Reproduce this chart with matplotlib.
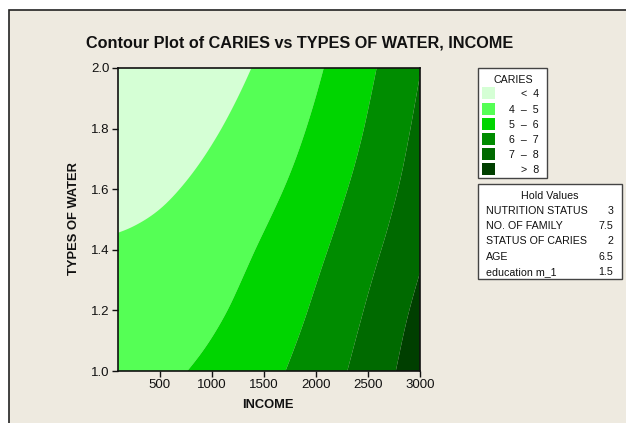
import numpy as np
import matplotlib
matplotlib.use("Agg")
import matplotlib.pyplot as plt
import matplotlib.tri as mtri
from matplotlib.patches import Rectangle

# ---- data ----
income = [100, 500, 1000, 1500, 2000, 2500, 3000]
water = [1.0, 1.2, 1.4, 1.6, 1.8, 2.0]
caries = [
    [4.73, 4.85, 5.18, 5.71, 6.46, 7.40, 8.55],
    [4.43, 4.53, 4.86, 5.39, 6.13, 7.09, 8.25],
    [4.09, 4.21, 4.56, 5.10, 5.81, 6.73, 7.84],
    [3.79, 3.90, 4.23, 4.75, 5.47, 6.38, 7.48],
    [3.53, 3.62, 3.92, 4.43, 5.15, 6.08, 7.22],
    [3.29, 3.35, 3.63, 4.14, 4.87, 5.82, 6.97],
]
levels = [0, 4, 5, 6, 7, 8, 20]
level_labels = ["<  4", "4  \u2013  5", "5  \u2013  6", "6  \u2013  7", "7  \u2013  8", ">  8"]
colors = ["#D5FFD5", "#55FF55", "#00D500", "#008C00", "#006A00", "#003F00"]
hold_names = ["NUTRITION STATUS", "NO. OF FAMILY", "STATUS OF CARIES", "AGE", "education m_1"]
hold_values = ["3", "7.5", "2", "6.5", "1.5"]
xticks = [500, 1000, 1500, 2000, 2500, 3000]
yticks = [1.0, 1.2, 1.4, 1.6, 1.8, 2.0]

W, H = 626, 423
BEIGE = "#EEEAE0"
plt.rcParams['font.family'] = ['Liberation Sans', 'DejaVu Sans']

fig = plt.figure(figsize=(W / 100, H / 100), dpi=100, facecolor="white")

def fx(px):
    return px / W

def fy(py):
    return 1 - py / H

# beige panel
fig.patches.append(Rectangle((fx(8.5), -0.05), 1.1, fy(10.5) + 0.05, transform=fig.transFigure,
                             facecolor=BEIGE, edgecolor="#222222", linewidth=1.2, zorder=-10))

ax = fig.add_axes([fx(118), fy(371), fx(420) - fx(118), fy(68) - fy(371)])
ax.set_facecolor(BEIGE)

# triangulated grid, smoothed by matplotlib's cubic refiner
X, Y = np.meshgrid(np.array(income, float), np.array(water, float))
Z = np.array(caries, float)
nx, ny = len(income), len(water)
tris = []
for j in range(ny - 1):
    for i in range(nx - 1):
        a = j * nx + i
        b = a + 1
        c = a + nx
        d = c + 1
        tris.append([a, b, d])
        tris.append([a, d, c])
tri = mtri.Triangulation(X.ravel(), Y.ravel(), np.array(tris))
refiner = mtri.UniformTriRefiner(tri)
interp = mtri.CubicTriInterpolator(tri, Z.ravel(), kind="min_E")
tri_f, z_f = refiner.refine_field(Z.ravel(), triinterpolator=interp, subdiv=4)
ax.tricontourf(tri_f, z_f, levels=levels, colors=colors, antialiased=True)

ax.set_xlim(100, 3000)
ax.set_ylim(1.0, 2.0)
ax.set_xticks(xticks)
ax.set_xticklabels([str(t) for t in xticks])
ax.set_yticks(yticks)
ax.set_yticklabels([f"{t:.1f}" for t in yticks])
ax.tick_params(direction="out", length=4, width=1, labelsize=9.5, colors="#111111", pad=2)
for s in ax.spines.values():
    s.set_linewidth(1.2)
    s.set_color("#111111")

fig.text(fx(300), fy(43), "Contour Plot of CARIES vs TYPES OF WATER, INCOME",
         ha="center", va="center", fontsize=11.7, fontweight="bold", color="#111111")
fig.text(fx(268), fy(405), "INCOME", ha="center", va="center", fontsize=9.3,
         fontweight="bold", color="#111111")
fig.text(fx(74), fy(219), "TYPES OF WATER", ha="center", va="center", fontsize=9.3,
         fontweight="bold", rotation=90, color="#111111")

FS = 7.7
BASE = 3.8  # baseline offset below row centre, px

# CARIES legend box
fig.patches.append(Rectangle((fx(477.5), fy(178.5)), fx(546.5) - fx(477.5), fy(68.5) - fy(178.5),
                             transform=fig.transFigure, facecolor="white", edgecolor="#444444",
                             linewidth=1.0))
fig.text(fx(513), fy(79 + BASE), "CARIES", ha="center", va="baseline", fontsize=FS, color="#111111")
rows_y = [93.3, 109.0, 124.0, 139.0, 154.0, 169.3]
for yy, col, lab in zip(rows_y, colors, level_labels):
    fig.patches.append(Rectangle((fx(482), fy(yy + 6)), fx(13), 12 / H,
                                 transform=fig.transFigure, facecolor=col, edgecolor="none"))
    fig.text(fx(539), fy(yy + BASE), lab, ha="right", va="baseline", fontsize=FS, color="#111111")

# Hold values box
fig.patches.append(Rectangle((fx(477.5), fy(278.5)), fx(622) - fx(477.5), fy(183.5) - fy(278.5),
                             transform=fig.transFigure, facecolor="white", edgecolor="#444444",
                             linewidth=1.0))
fig.text(fx(550), fy(195 + BASE), "Hold Values", ha="center", va="baseline", fontsize=FS,
         color="#111111")
for k, (nm, vv) in enumerate(zip(hold_names, hold_values)):
    yy = 210 + k * 15.3 + BASE
    fig.text(fx(486), fy(yy), nm, ha="left", va="baseline", fontsize=FS, color="#111111")
    fig.text(fx(613), fy(yy), vv, ha="right", va="baseline", fontsize=FS, color="#111111")

fig.savefig("out.png", dpi=100, facecolor="white")
